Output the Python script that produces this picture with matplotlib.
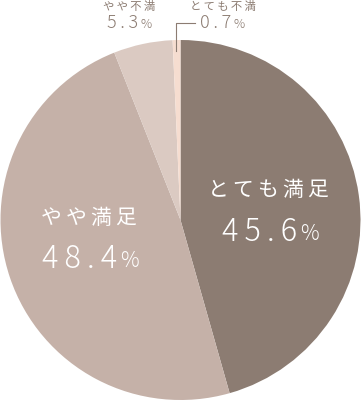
import matplotlib.pyplot as plt

plt.rcParams['font.family'] = ['Noto Sans CJK JP', 'DejaVu Sans']

labels = ['とても満足', 'やや満足', 'やや不満', 'とても不満']
values = [45.6, 48.4, 5.3, 0.7]
colors = ['#8c7c72', '#c5b1a8', '#dbcac2', '#f6ddd0']

W, H = 361, 402
SP = '\u2009'  # 字間をあける


def spaced(s):
    return SP.join(s)


def pct(ax, x_split, y, v, color, size, psize):
    # 数字は右寄せ、%は小さめで左寄せ
    ax.text(x_split, y, spaced(f'{v}'), color=color, fontsize=size,
            ha='right', va='center', fontweight='light')
    ax.text(x_split + 3, y - size * 0.08, '%', color=color, fontsize=psize,
            ha='left', va='center', fontweight='light')


fig = plt.figure(figsize=(W / 100, H / 100), dpi=100)
ax = fig.add_axes([0, 0, 1, 1])

cx, cy, r = 180.5, H - 221, 180
ax.pie(values, colors=colors, startangle=90, counterclock=False,
       center=(cx, cy), radius=r, wedgeprops=dict(linewidth=0), frame=True)
ax.set_xlim(0, W)
ax.set_ylim(0, H)
ax.axis('off')

txt = '#8c7c72'
# 内側ラベル
ax.text(268, H - 190, spaced(labels[0]), color='white', fontsize=15, ha='center', va='center')
pct(ax, 297, H - 232, values[0], 'white', 22, 15)
ax.text(89, H - 218, spaced(labels[1]), color='white', fontsize=15, ha='center', va='center')
pct(ax, 117, H - 259, values[1], 'white', 22, 15)

# 外側ラベル
ax.text(129, H - 6.5, spaced(labels[2]), color=txt, fontsize=8.2, ha='center', va='center')
pct(ax, 138, H - 23, values[2], txt, 13, 9)
ax.text(223, H - 6.5, spaced(labels[3]), color=txt, fontsize=8.2, ha='center', va='center')
pct(ax, 231, H - 23, values[3], txt, 13, 9)
ax.plot([176, 176, 195], [H - 52, H - 24, H - 24], color=txt, lw=0.8)

fig.savefig('out.png', dpi=100)
